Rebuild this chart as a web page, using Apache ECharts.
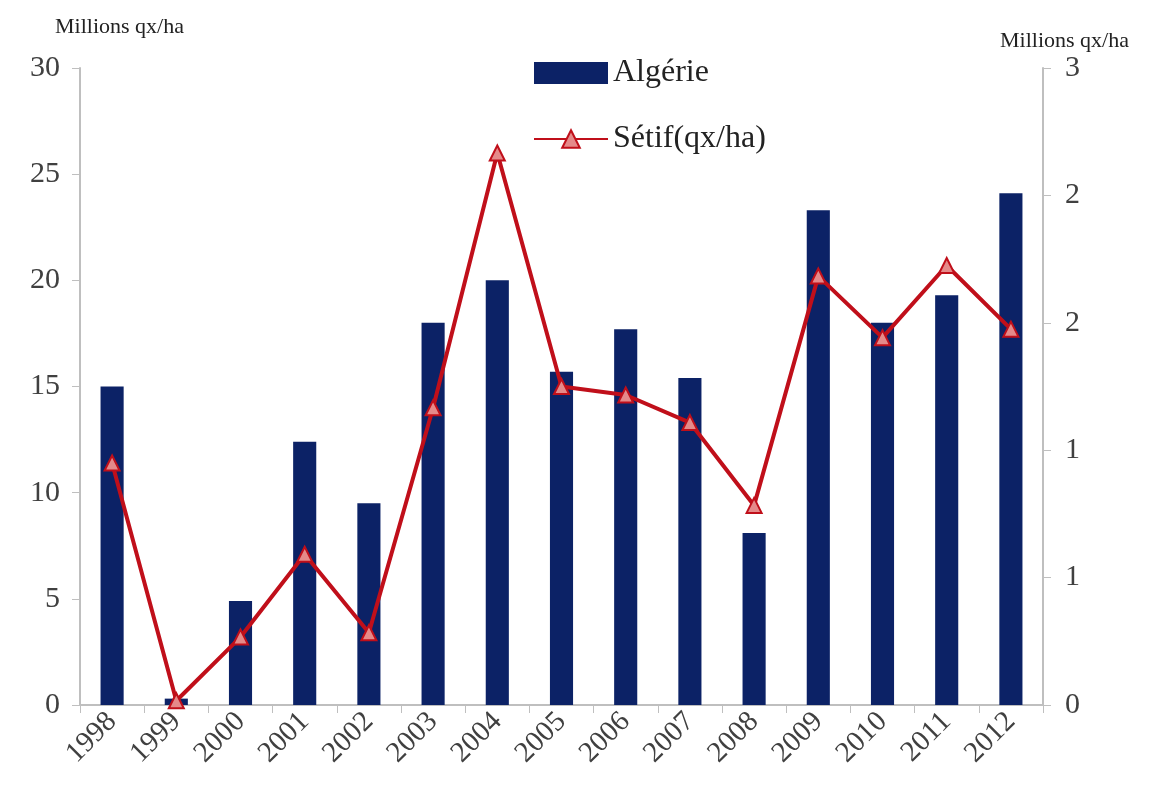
<!DOCTYPE html>
<html>
<head>
<meta charset="utf-8">
<style>
  html, body { margin: 0; padding: 0; background: #fff; }
  #chart { width: 1167px; height: 803px; }
</style>
<script src="https://cdn.jsdelivr.net/npm/echarts@6/dist/echarts.min.js"></script>
</head>
<body>
<div id="chart"></div>
<script>
// années
const years = ['1998', '1999', '2000', '2001', '2002', '2003', '2004', '2005',
  '2006', '2007', '2008', '2009', '2010', '2011', '2012'];
// Algérie (axe gauche)
const algerie = [15.0, 0.3, 4.9, 12.4, 9.5, 18.0, 20.0, 15.7, 17.7, 15.4, 8.1, 23.3, 18.0, 19.3, 24.1];
// Sétif (axe droit)
const setif = [1.14, 0.02, 0.32, 0.71, 0.34, 1.40, 2.60, 1.50, 1.46, 1.33, 0.94, 2.02, 1.73, 2.07, 1.77];

const serif = '"Liberation Serif", "DejaVu Serif", serif';
const axisGray = '#bfbfbf';
const labelColor = '#404040';

const chart = echarts.init(document.getElementById('chart'));
chart.setOption({
  animation: false,
  grid: { left: 80, right: 124, top: 68, bottom: 98 },
  legend: {
    left: 528,
    top: 52,
    orient: 'vertical',
    itemGap: 34,
    itemWidth: 74,
    itemHeight: 22,
    textStyle: { fontFamily: serif, fontSize: 32, color: '#222' },
    data: [{ name: 'Algérie', icon: 'rect' }, 'Sétif(qx/ha)']
  },
  xAxis: {
    type: 'category',
    data: years,
    axisLine: { lineStyle: { color: axisGray, width: 2 } },
    axisTick: { show: true, alignWithLabel: false, length: 8, lineStyle: { color: axisGray } },
    axisLabel: { rotate: 45, fontFamily: serif, fontSize: 29, color: labelColor, margin: 12 }
  },
  yAxis: [
    {
      type: 'value',
      min: 0, max: 30, interval: 5,
      name: 'Millions qx/ha',
      nameLocation: 'end',
      nameGap: 30,
      nameTextStyle: { fontFamily: serif, fontSize: 22, color: '#222', align: 'left', padding: [0, 0, 0, -25] },
      axisLine: { show: true, lineStyle: { color: axisGray, width: 2 } },
      axisTick: { show: true, length: 8, lineStyle: { color: axisGray } },
      axisLabel: { fontFamily: serif, fontSize: 30, color: labelColor, margin: 20 },
      splitLine: { show: false }
    },
    {
      type: 'value',
      min: 0, max: 3, interval: 0.6,
      position: 'right',
      name: 'Millions qx/ha',
      nameLocation: 'end',
      nameGap: 16,
      nameTextStyle: { fontFamily: serif, fontSize: 22, color: '#222', align: 'left', padding: [0, 0, 0, -43] },
      axisLine: { show: true, lineStyle: { color: axisGray, width: 2 } },
      axisTick: { show: true, length: 8, lineStyle: { color: axisGray } },
      axisLabel: {
        fontFamily: serif, fontSize: 30, color: labelColor, margin: 22,
        formatter: v => String(Math.round(v))
      },
      splitLine: { show: false }
    }
  ],
  series: [
    {
      name: 'Algérie',
      type: 'bar',
      data: algerie,
      barWidth: '36%',
      itemStyle: { color: '#0c2266' }
    },
    {
      name: 'Sétif(qx/ha)',
      type: 'line',
      yAxisIndex: 1,
      data: setif,
      symbol: 'triangle',
      symbolSize: 15,
      lineStyle: { color: '#c00f1a', width: 4 },
      itemStyle: { color: '#e58a8a', borderColor: '#c00f1a', borderWidth: 2 }
    }
  ]
});
</script>
</body>
</html>
